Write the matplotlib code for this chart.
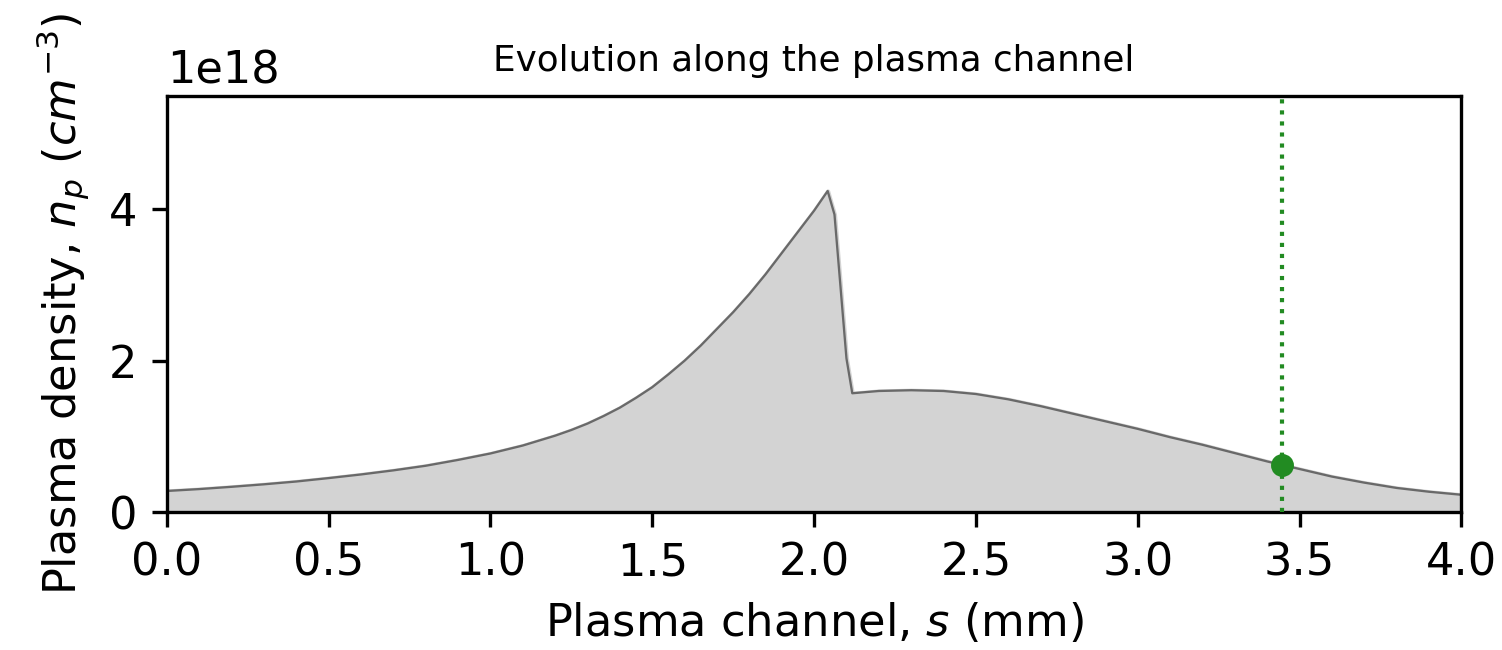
import numpy as np
import matplotlib
matplotlib.use("Agg")
import matplotlib.pyplot as plt

plt.rcParams['font.size'] = 10.75

# density profile along the channel (s in mm, n_p in units of 1e18 cm^-3)
s_mm = [0.0, 0.1, 0.2, 0.3, 0.4, 0.5, 0.6, 0.7, 0.8, 0.9, 1.0, 1.1, 1.2,
        1.25, 1.3, 1.35, 1.4, 1.45, 1.5, 1.55, 1.6, 1.65, 1.7, 1.75, 1.8,
        1.85, 1.9, 1.95, 2.0, 2.042, 2.063, 2.100, 2.118,
        2.2, 2.3, 2.4, 2.5, 2.6, 2.7, 2.8, 2.9, 3.0, 3.1, 3.2, 3.3, 3.4,
        3.5, 3.6, 3.7, 3.8, 3.9, 4.0]
n_p = [0.28, 0.305, 0.335, 0.368, 0.405, 0.45, 0.498, 0.552, 0.613, 0.69,
       0.775, 0.88, 1.01, 1.085, 1.17, 1.27, 1.38, 1.51, 1.65, 1.82, 2.00,
       2.20, 2.42, 2.64, 2.88, 3.14, 3.42, 3.70, 3.98,
       4.24, 3.93, 2.03, 1.57, 1.60, 1.61, 1.60, 1.56, 1.49, 1.40, 1.30,
       1.20, 1.10, 0.99, 0.89, 0.78, 0.67, 0.57, 0.47, 0.39, 0.32, 0.27,
       0.23]

# current position in the channel
s_now = 3.447
n_now = 0.62

s = np.array(s_mm)
n = np.array(n_p) * 1e18

fig, ax = plt.subplots(figsize=(1502 / 300, 650 / 300), dpi=300)
fig.subplots_adjust(left=0.111, right=0.973, bottom=0.212, top=0.853)

ax.fill_between(s, n, color='lightgray', zorder=1)
ax.plot(s, n, color='dimgray', lw=0.55, zorder=2)
ax.axvline(s_now, color='forestgreen', ls=':', lw=1.0, zorder=3)
ax.plot([s_now], [n_now * 1e18], 'o', color='forestgreen', ms=4.5, zorder=4)

ax.set_xlim(0, 4)
ax.set_ylim(0, 5.5e18)
ax.set_xticks(np.arange(0, 4.01, 0.5))
ax.set_yticks([0, 2e18, 4e18])

ax.set_xlabel(r'Plasma channel, $s$ (mm)')
ax.set_ylabel(r'Plasma density, $n_p$ ($cm^{-3}$)')
ax.set_title('Evolution along the plasma channel', fontsize=8.6)

plt.savefig('out.png', dpi=300)
plt.close()
